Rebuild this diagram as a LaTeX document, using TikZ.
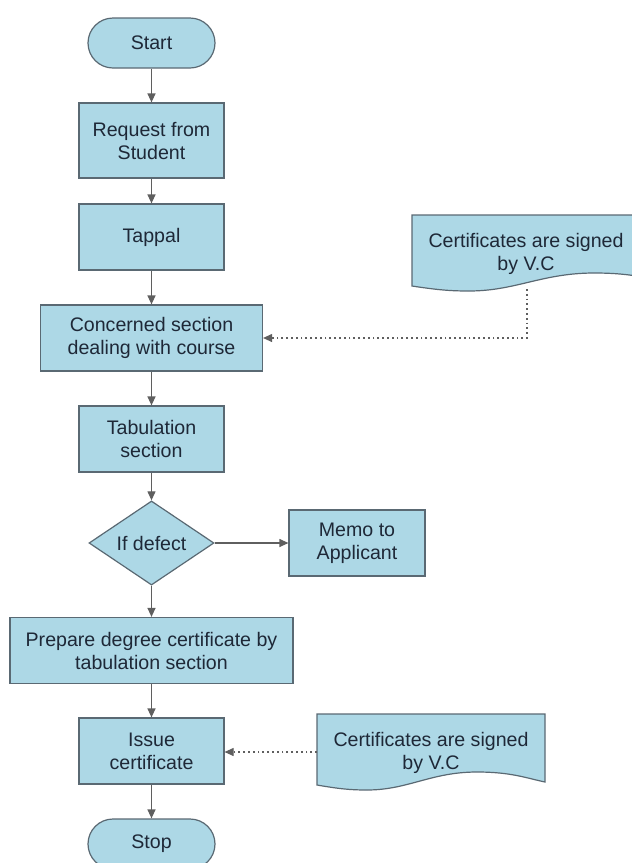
\documentclass[tikz,border=0pt]{standalone}
\usepackage{fontspec}
\setmainfont{Liberation Sans}
\usetikzlibrary{shapes.geometric,arrows.meta}
\definecolor{boxfill}{RGB}{173,216,230}
\definecolor{boxline}{RGB}{90,105,115}
\definecolor{txt}{RGB}{30,40,55}
\definecolor{arr}{RGB}{95,95,95}

\tikzset{
  base/.style={draw=boxline, fill=boxfill, line width=1.2pt, text=txt,
    font=\fontsize{19.6}{23}\selectfont, align=center, inner sep=0pt},
  procbox/.style={base, rectangle, minimum width=#1, minimum height=66pt},
  termbox/.style={base, rectangle, rounded corners=25pt, minimum width=127pt, minimum height=50pt},
  decbox/.style={base, diamond, minimum width=125pt, minimum height=77pt},
  doctext/.style={text=txt, font=\fontsize{19.6}{23}\selectfont, align=center, inner sep=0pt},
  docshape/.style={draw=boxline, fill=boxfill, line width=1.2pt},
  flow/.style={draw=arr, line width=1.2pt, -{Triangle[length=9pt,width=8pt]}},
  dotflow/.style={draw=arr, line width=1.1pt, dash pattern=on 1.8pt off 3pt,
    -{Triangle[length=9pt,width=8pt]}},
}

% document symbol with a wavy lower edge, drawn from its top-left corner
\newcommand{\docsymbol}{%
  (0,0) -- (228,0) -- (228,68)
  .. controls (209,64) and (194,58) .. (160,58)
  .. controls (114,58) and (91,76) .. (50,76)
  .. controls (34,76) and (23,75) .. (0,71) -- cycle}

\begin{document}
\begin{tikzpicture}[x=1pt,y=-1pt]
  \clip (0,0) rectangle (632,863);

  % main column
  \node[termbox] (start) at (151.5,43) {Start};
  \node[procbox=145pt, minimum height=75pt] (req) at (151.5,140.5) {Request from\\Student};
  \node[procbox=145pt] (tappal) at (151.5,237) {Tappal};
  \node[procbox=222pt] (conc) at (151.5,338) {Concerned section\\dealing with course};
  \node[procbox=145pt] (tab) at (151.5,439) {Tabulation\\section};
  \node[decbox] (dec) at (151.5,543) {If defect};
  \node[procbox=136pt] (memo) at (357,543) {Memo to\\Applicant};
  \node[procbox=283pt] (prep) at (151.5,650.5) {Prepare degree certificate by\\tabulation section};
  \node[procbox=145pt] (issue) at (151.5,751) {Issue\\certificate};
  \node[termbox] (stop) at (151.5,844) {Stop};

  % documents
  \coordinate (d1) at (526,254);
  \fill[docshape] [shift={(d1)}, shift={(-114,-39)}, xscale=1.14] \docsymbol;
  \node[doctext] (doc1) at (d1) {Certificates are signed\\by V.C};

  \coordinate (d2) at (431,753);
  \fill[docshape] [shift={(d2)}, shift={(-114,-39)}] \docsymbol;
  \node[doctext] (doc2) at (d2) {Certificates are signed\\by V.C};

  \coordinate (c1) at (527,289);
  \coordinate (c2) at (317,752);

  % connectors
  \draw[flow] (start) -- (req);
  \draw[flow] (req) -- (tappal);
  \draw[flow] (tappal) -- (conc);
  \draw[flow] (conc) -- (tab);
  \draw[flow] (tab) -- (dec);
  \draw[flow] (dec) -- (memo);
  \draw[flow] (dec) -- (prep);
  \draw[flow] (prep) -- (issue);
  \draw[flow] (issue) -- (stop);
  \draw[dotflow] (c1) |- (conc.east);
  \draw[dotflow] (c2) -- (issue.east |- c2);
\end{tikzpicture}
\end{document}
